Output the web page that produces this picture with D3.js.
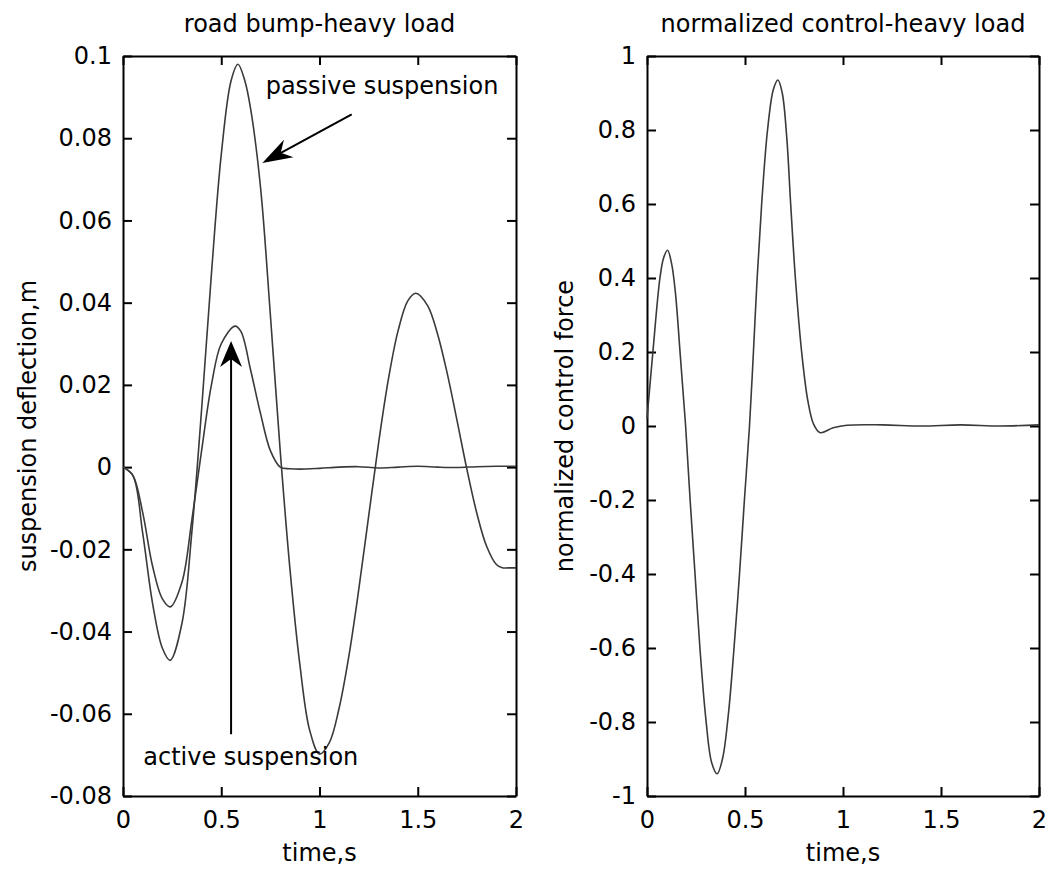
<!DOCTYPE html>
<html lang="en">
<head>
<meta charset="UTF-8">
<title>road bump-heavy load</title>
<script src="https://cdn.jsdelivr.net/npm/d3@7"></script>
<style>
  body { margin: 0; background: #fff; }
  text { font-family: "DejaVu Sans", sans-serif; fill: #000; }
</style>
</head>
<body>
<script>
// time ticks shared by both panels
const timeTicks = [0, 0.5, 1, 1.5, 2];
const timeTickLabels = ["0", "0.5", "1", "1.5", "2"];

// left panel: suspension deflection (m)
const deflTicks = [0.1, 0.08, 0.06, 0.04, 0.02, 0, -0.02, -0.04, -0.06, -0.08];
const deflTickLabels = ["0.1", "0.08", "0.06", "0.04", "0.02", "0", "-0.02", "-0.04", "-0.06", "-0.08"];

const passiveTime = [0, 0.05, 0.1, 0.15, 0.2, 0.24, 0.3, 0.35, 0.4, 0.45, 0.5, 0.55, 0.585, 0.62, 0.65, 0.7, 0.75, 0.8, 0.85, 0.9, 0.95, 1.0, 1.05, 1.1, 1.15, 1.2, 1.25, 1.3, 1.35, 1.4, 1.45, 1.49, 1.55, 1.6, 1.65, 1.7, 1.75, 1.8, 1.85, 1.9, 1.93, 1.96, 2.0];
const passiveDefl = [0, -0.002, -0.016, -0.033, -0.044, -0.047, -0.038, -0.016, 0.014, 0.047, 0.076, 0.094, 0.098, 0.094, 0.087, 0.068, 0.037, 0.004, -0.025, -0.048, -0.064, -0.0698, -0.067, -0.0586, -0.0458, -0.0297, -0.012, 0.0056, 0.0212, 0.0332, 0.0405, 0.0423, 0.0393, 0.0325, 0.0228, 0.0113, -0.0005, -0.0111, -0.0192, -0.0237, -0.0245, -0.0245, -0.0245];

const activeTime = [0, 0.05, 0.1, 0.15, 0.2, 0.24, 0.3, 0.35, 0.4, 0.45, 0.5, 0.57, 0.6, 0.65, 0.7, 0.75, 0.8, 0.85, 0.9, 1.0, 1.1, 1.2, 1.3, 1.4, 1.5, 1.6, 1.7, 1.8, 1.9, 2.0];
const activeDefl = [0, -0.002, -0.011, -0.024, -0.032, -0.034, -0.028, -0.013, 0.004, 0.020, 0.030, 0.0343, 0.033, 0.0235, 0.013, 0.004, 0, -0.0004, -0.0005, -0.0003, 0, 0.0001, -0.0002, 0, 0.0002, 0, -0.0001, 0.0001, 0.0002, 0.0002];

// right panel: normalized control force
const forceTicks = [1, 0.8, 0.6, 0.4, 0.2, 0, -0.2, -0.4, -0.6, -0.8, -1];
const forceTickLabels = ["1", "0.8", "0.6", "0.4", "0.2", "0", "-0.2", "-0.4", "-0.6", "-0.8", "-1"];

const controlTime = [0, 0.03, 0.066, 0.085, 0.105, 0.125, 0.145, 0.17, 0.197, 0.22, 0.245, 0.27, 0.3, 0.33, 0.358, 0.385, 0.415, 0.444, 0.472, 0.497, 0.523, 0.543, 0.562, 0.585, 0.615, 0.645, 0.668, 0.69, 0.713, 0.733, 0.757, 0.789, 0.82, 0.85, 0.883, 0.95, 1.02, 1.2, 1.4, 1.6, 1.8, 2.0];
const controlForce = [0.02, 0.2, 0.4, 0.455, 0.475, 0.44, 0.36, 0.19, 0, -0.2, -0.4, -0.6, -0.79, -0.91, -0.94, -0.9, -0.78, -0.6, -0.4, -0.2, 0, 0.2, 0.4, 0.6, 0.8, 0.91, 0.935, 0.9, 0.78, 0.6, 0.4, 0.2, 0.07, 0.005, -0.018, -0.005, 0.002, 0.003, 0, 0.003, 0, 0.003];

const W = 1047, H = 869;
const svg = d3.select("body").append("svg").attr("width", W).attr("height", H);

const plotTop = 56, plotBottom = 796;
const tickLen = 9;

function panel(x0, x1, yDomain, yTicks, yLabels, title, yTitle, yTitleX) {
  const x = d3.scaleLinear().domain([0, 2]).range([x0, x1]);
  const y = d3.scaleLinear().domain(yDomain).range([plotBottom, plotTop]);
  const g = svg.append("g");

  const fmtY = d => yLabels[yTicks.indexOf(d)];
  const fmtX = d => timeTickLabels[timeTicks.indexOf(d)];

  // axes with inward ticks on all four sides
  const ax = [
    g.append("g").attr("transform", `translate(0,${plotBottom})`)
      .call(d3.axisBottom(x).tickValues(timeTicks).tickFormat(fmtX).tickSizeInner(-tickLen).tickSizeOuter(0).tickPadding(15)),
    g.append("g").attr("transform", `translate(0,${plotTop})`)
      .call(d3.axisTop(x).tickValues(timeTicks).tickFormat("").tickSizeInner(-tickLen).tickSizeOuter(0)),
    g.append("g").attr("transform", `translate(${x0},0)`)
      .call(d3.axisLeft(y).tickValues(yTicks).tickFormat(fmtY).tickSizeInner(-tickLen).tickSizeOuter(0).tickPadding(11)),
    g.append("g").attr("transform", `translate(${x1},0)`)
      .call(d3.axisRight(y).tickValues(yTicks).tickFormat("").tickSizeInner(-tickLen).tickSizeOuter(0))
  ];
  ax.forEach(a => {
    a.select(".domain").attr("stroke", "#000").attr("stroke-width", 2);
    a.selectAll(".tick line").attr("stroke", "#000").attr("stroke-width", 2);
    a.selectAll(".tick text").style("font-family", "'DejaVu Sans', sans-serif").style("font-size", "24px").attr("fill", "#000");
  });

  g.append("text").attr("x", (x0 + x1) / 2).attr("y", 32)
    .attr("text-anchor", "middle").style("font-size", "24px").text(title);
  g.append("text").attr("x", (x0 + x1) / 2).attr("y", 861)
    .attr("text-anchor", "middle").style("font-size", "24px").text("time,s");
  g.append("text")
    .attr("transform", `translate(${yTitleX},${(plotTop + plotBottom) / 2}) rotate(-90)`)
    .attr("text-anchor", "middle").style("font-size", "24px").text(yTitle);

  return { g, x, y };
}

function drawLine(p, times, vals) {
  const line = d3.line().x(d => p.x(d[0])).y(d => p.y(d[1])).curve(d3.curveCatmullRom.alpha(0.5));
  p.g.append("path")
    .datum(d3.zip(times, vals))
    .attr("d", line)
    .attr("fill", "none")
    .attr("stroke", "#3a3a3a")
    .attr("stroke-width", 1.6);
}

function arrow(p, from, to, len, half) {
  const x1 = p.x(from[0]), y1 = p.y(from[1]);
  const x2 = p.x(to[0]), y2 = p.y(to[1]);
  const a = Math.atan2(y2 - y1, x2 - x1);
  const ux = Math.cos(a), uy = Math.sin(a);
  p.g.append("line").attr("x1", x1).attr("y1", y1).attr("x2", x2 - ux * len * 0.6).attr("y2", y2 - uy * len * 0.6)
    .attr("stroke", "#000").attr("stroke-width", 2);
  const bx = x2 - ux * len, by = y2 - uy * len;
  const nx = x2 - ux * len * 0.7, ny = y2 - uy * len * 0.7;
  const pts = [[x2, y2], [bx - uy * half, by + ux * half], [nx, ny], [bx + uy * half, by - ux * half]];
  p.g.append("path").attr("d", "M" + pts.join("L") + "Z").attr("fill", "#000");
}

// left panel
const left = panel(123, 516, [-0.08, 0.1], deflTicks, deflTickLabels,
  "road bump-heavy load", "suspension deflection,m", 36);
drawLine(left, passiveTime, passiveDefl);
drawLine(left, activeTime, activeDefl);

arrow(left, [1.164, 0.0858], [0.709, 0.074], 30, 10);
left.g.append("text").attr("x", left.x(0.726)).attr("y", left.y(0.0907))
  .style("font-size", "24px").text("passive suspension");

arrow(left, [0.55, -0.065], [0.55, 0.0307], 26, 11);
left.g.append("text").attr("x", left.x(0.103)).attr("y", left.y(-0.0725))
  .style("font-size", "24px").text("active suspension");

// right panel
const right = panel(647, 1039, [-1, 1], forceTicks, forceTickLabels,
  "normalized control-heavy load", "normalized control force", 573);
drawLine(right, controlTime, controlForce);
</script>
</body>
</html>
